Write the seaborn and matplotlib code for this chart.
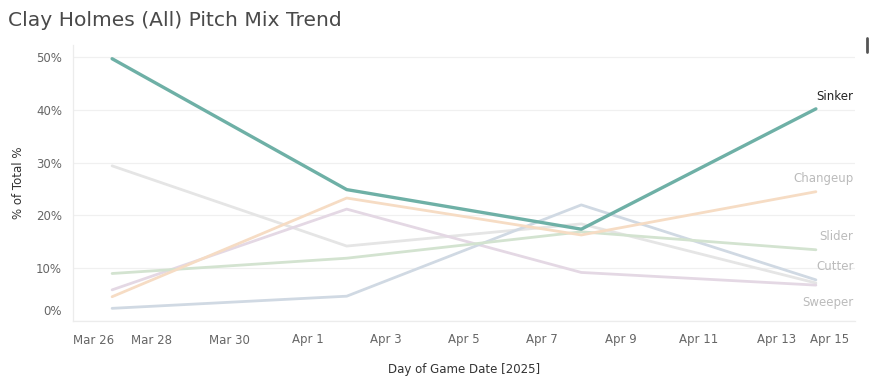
import pandas as pd
import matplotlib.pyplot as plt
import matplotlib.dates as mdates
import matplotlib.transforms as mtransforms
import seaborn as sns


# Data

game_dates = ["2025-03-27", "2025-04-02", "2025-04-08", "2025-04-14"]

sinker = [49.7, 24.9, 17.4, 40.2]
changeup = [4.6, 23.3, 16.3, 24.5]
slider = [9.0, 11.9, 16.9, 13.5]
cutter = [2.4, 4.7, 22.0, 7.8]
sweeper = [29.4, 14.2, 18.4, 7.2]
four_seam = [5.9, 21.2, 9.2, 6.8]

pitches = ["Sinker", "Changeup", "Slider", "Cutter", "Sweeper", "Four-Seam"]
series = [sinker, changeup, slider, cutter, sweeper, four_seam]
labelled = ["Sinker", "Changeup", "Slider", "Cutter", "Sweeper"]

colors = {
    "Sinker": "#6eb0a6",
    "Changeup": "#f6dcc4",
    "Slider": "#d3e3d0",
    "Cutter": "#d0d9e3",
    "Sweeper": "#e5e5e5",
    "Four-Seam": "#e4d8e4",
}

rows = []
for name, vals in zip(pitches, series):
    for d, v in zip(game_dates, vals):
        rows.append({"date": pd.Timestamp(d), "pitch": name, "pct": v})
df = pd.DataFrame(rows)


# Plot

sns.set_style("white")
plt.rcParams["font.family"] = ["DejaVu Sans"]

fig = plt.figure(figsize=(8.7, 3.89), dpi=100)
ax = fig.add_axes([73 / 870, 1 - 321 / 389, 782 / 870, 276 / 389])

# faded lines first, sinker on top
order = ["Sweeper", "Four-Seam", "Cutter", "Slider", "Changeup", "Sinker"]
for name in order:
    sub = df[df["pitch"] == name]
    sns.lineplot(data=sub, x="date", y="pct", color=colors[name],
                 linewidth=2.4 if name == "Sinker" else 2.0, ax=ax,
                 legend=False)

ax.set_xlim(pd.Timestamp("2025-03-26"), pd.Timestamp("2025-04-15"))
ax.set_ylim(0, 52.3)

ax.set_yticks([0, 10, 20, 30, 40, 50])
ax.set_yticklabels([f"{t}%" for t in [0, 10, 20, 30, 40, 50]])
ax.yaxis.grid(True, color="#f0f0f0", linewidth=0.9)
ax.xaxis.grid(False)

ticks = pd.date_range("2025-03-26", "2025-04-15", freq="2D")
ax.set_xticks(ticks)
ax.xaxis.set_major_formatter(mdates.DateFormatter("%b %-d"))

ax.tick_params(axis="both", length=0, labelsize=8.5, labelcolor="#666666")
ax.tick_params(axis="y", pad=8)
ax.tick_params(axis="x", pad=9)

for side in ["top", "right"]:
    ax.spines[side].set_visible(False)
for side in ["left", "bottom"]:
    ax.spines[side].set_color("#ececec")
    ax.spines[side].set_linewidth(0.9)

# keep edge tick labels inside, like the original
ylabs = ax.get_yticklabels()
ylabs[0].set_transform(ylabs[0].get_transform() +
                       mtransforms.ScaledTranslation(0, 11 / 100, fig.dpi_scale_trans))
xlabs = ax.get_xticklabels()
xlabs[0].set_transform(xlabs[0].get_transform() +
                       mtransforms.ScaledTranslation(21 / 100, 0, fig.dpi_scale_trans))
xlabs[-1].set_transform(xlabs[-1].get_transform() +
                        mtransforms.ScaledTranslation(-25 / 100, 0, fig.dpi_scale_trans))

ax.set_xlabel("Day of Game Date [2025]", fontsize=8.5, color="#333333", labelpad=12)
ax.set_ylabel("% of Total %", fontsize=8.5, color="#333333", labelpad=8)

# end-of-line labels (offset in points, positive = up)
label_offsets = {
    "Sinker": (9, "#222222"),
    "Changeup": (9.5, "#bbbbbb"),
    "Slider": (9.5, "#bbbbbb"),
    "Cutter": (9.5, "#bbbbbb"),
    "Sweeper": (-14, "#bbbbbb"),
}
last = pd.Timestamp(game_dates[-1])
for name in labelled:
    val = series[pitches.index(name)][-1]
    dy, col = label_offsets[name]
    ax.annotate(name, xy=(last, val), xytext=(27, dy),
                textcoords="offset points", ha="right", va="center",
                fontsize=8.5, color=col, annotation_clip=False)

fig.text(8 / 870, 1 - 20 / 389, "Clay Holmes (All) Pitch Mix Trend",
         fontsize=14.6, color="#4a4a4a", va="center", ha="left")

# small cut-off element at the top right
fig.add_artist(plt.Line2D([867 / 870, 867 / 870], [1 - 38 / 389, 1 - 52 / 389],
                          color="#555555", linewidth=2))

fig.savefig("out.png", dpi=100)
